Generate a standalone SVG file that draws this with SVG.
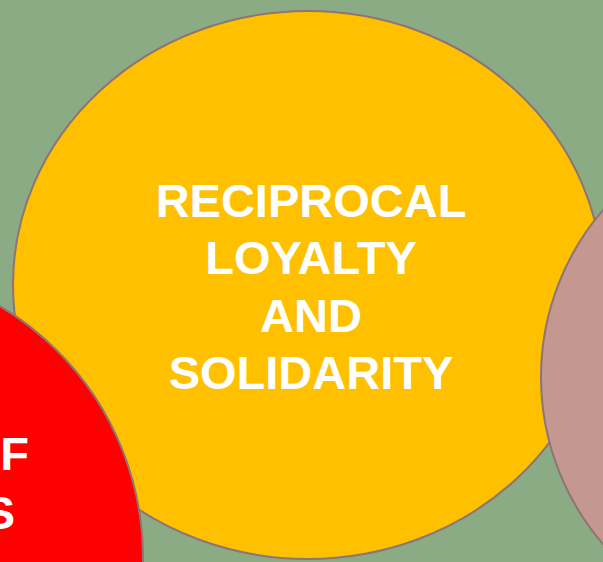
<svg xmlns="http://www.w3.org/2000/svg" width="603" height="562" viewBox="0 0 603 562">
<style>
.c{stroke:#8e7474;stroke-width:2}
.t{font-family:"Liberation Sans",Arial,sans-serif;font-weight:bold;font-size:47px;fill:#ffffff}
</style>
<rect width="603" height="562" fill="#8bab84"/>
<g id="yellow">
<ellipse class="c" cx="308" cy="285" rx="295" ry="274" fill="#ffc000"/>
<text class="t" text-anchor="middle" x="311" y="217">RECIPROCAL</text>
<text class="t" text-anchor="middle" x="311" y="274">LOYALTY</text>
<text class="t" text-anchor="middle" x="311" y="332">AND</text>
<text class="t" text-anchor="middle" x="311" y="389">SOLIDARITY</text>
</g>
<g id="red">
<circle class="c" cx="-150" cy="558" r="293" fill="#ff0000"/>
<text class="t" text-anchor="end" x="29" y="470">F</text>
<text class="t" text-anchor="end" x="15" y="529">S</text>
</g>
<g id="pink">
<circle class="c" cx="797" cy="377" r="256" fill="#c49891"/>
</g>
</svg>
